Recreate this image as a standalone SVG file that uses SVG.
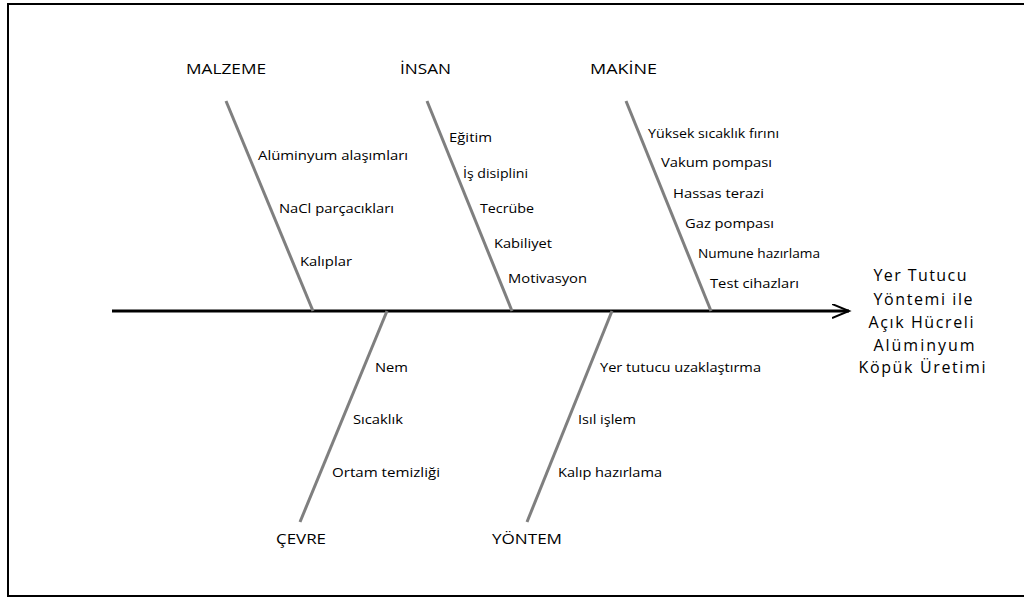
<svg xmlns="http://www.w3.org/2000/svg" width="1024" height="598" viewBox="0 0 1024 598">
<style>
.frame{fill:#fff;stroke:#000;stroke-width:2}
.spine{stroke:#000;stroke-width:3;fill:none}
.bone{stroke:#7f7f7f;stroke-width:3;fill:none}
.cat{font-family:"Open Sans","Liberation Sans",sans-serif;font-size:14px;fill:#000}
.item{font-family:"Open Sans","Liberation Sans",sans-serif;font-size:12.5px;fill:#000}
.head{font-family:"Open Sans","Liberation Sans",sans-serif;font-size:16px;fill:#000;text-anchor:middle}
</style>
<defs>
<marker id="arr" markerWidth="20" markerHeight="16" refX="17" refY="7" orient="auto" markerUnits="userSpaceOnUse">
<path d="M0,0 L17,7 L0,14" fill="none" stroke="#000" stroke-width="2"/>
</marker>
</defs>
<rect class="frame" x="8" y="4" width="1030" height="592"/>
<g id="connectors">
<line class="spine" x1="112" y1="311" x2="849" y2="311" marker-end="url(#arr)"/>
<line class="bone" x1="226" y1="101" x2="313" y2="311"/>
<line class="bone" x1="427" y1="101" x2="512" y2="311"/>
<line class="bone" x1="626" y1="101" x2="711" y2="311"/>
<line class="bone" x1="387" y1="311" x2="300" y2="522"/>
<line class="bone" x1="612" y1="311" x2="527" y2="522"/>
</g>
<g id="malzeme">
<text class="cat" x="186" y="74" textLength="80" lengthAdjust="spacingAndGlyphs">MALZEME</text>
<text class="item" x="258" y="160" textLength="150" lengthAdjust="spacingAndGlyphs">Alüminyum alaşımları</text>
<text class="item" x="279" y="213" textLength="115" lengthAdjust="spacingAndGlyphs">NaCl parçacıkları</text>
<text class="item" x="300" y="266" textLength="52" lengthAdjust="spacingAndGlyphs">Kalıplar</text>
</g>
<g id="insan">
<text class="cat" x="400" y="74" textLength="51" lengthAdjust="spacingAndGlyphs">İNSAN</text>
<text class="item" x="449" y="142" textLength="43" lengthAdjust="spacingAndGlyphs">Eğitim</text>
<text class="item" x="463" y="178" textLength="65" lengthAdjust="spacingAndGlyphs">İş disiplini</text>
<text class="item" x="480" y="213" textLength="54" lengthAdjust="spacingAndGlyphs">Tecrübe</text>
<text class="item" x="494" y="248" textLength="58" lengthAdjust="spacingAndGlyphs">Kabiliyet</text>
<text class="item" x="508" y="283" textLength="79" lengthAdjust="spacingAndGlyphs">Motivasyon</text>
</g>
<g id="makine">
<text class="cat" x="590" y="74" textLength="67" lengthAdjust="spacingAndGlyphs">MAKİNE</text>
<text class="item" x="648" y="138" textLength="131" lengthAdjust="spacingAndGlyphs">Yüksek sıcaklık fırını</text>
<text class="item" x="661" y="167" textLength="111" lengthAdjust="spacingAndGlyphs">Vakum pompası</text>
<text class="item" x="673" y="198" textLength="91" lengthAdjust="spacingAndGlyphs">Hassas terazi</text>
<text class="item" x="685" y="228" textLength="89" lengthAdjust="spacingAndGlyphs">Gaz pompası</text>
<text class="item" x="698" y="258" textLength="122" lengthAdjust="spacingAndGlyphs">Numune hazırlama</text>
<text class="item" x="710" y="288" textLength="89" lengthAdjust="spacingAndGlyphs">Test cihazları</text>
</g>
<g id="cevre">
<text class="cat" x="276" y="544" textLength="50" lengthAdjust="spacingAndGlyphs">ÇEVRE</text>
<text class="item" x="375" y="372" textLength="33" lengthAdjust="spacingAndGlyphs">Nem</text>
<text class="item" x="353" y="424" textLength="50" lengthAdjust="spacingAndGlyphs">Sıcaklık</text>
<text class="item" x="332" y="477" textLength="108" lengthAdjust="spacingAndGlyphs">Ortam temizliği</text>
</g>
<g id="yontem">
<text class="cat" x="492" y="544" textLength="70" lengthAdjust="spacingAndGlyphs">YÖNTEM</text>
<text class="item" x="600" y="372" textLength="161" lengthAdjust="spacingAndGlyphs">Yer tutucu uzaklaştırma</text>
<text class="item" x="578" y="424" textLength="58" lengthAdjust="spacingAndGlyphs">Isıl işlem</text>
<text class="item" x="558" y="477" textLength="104" lengthAdjust="spacingAndGlyphs">Kalıp hazırlama</text>
</g>
<g id="effect">
<text class="head" x="920" y="281" textLength="93" lengthAdjust="spacing">Yer Tutucu</text>
<text class="head" x="923" y="305" textLength="99" lengthAdjust="spacing">Yöntemi ile</text>
<text class="head" x="921" y="328" textLength="105" lengthAdjust="spacing">Açık Hücreli</text>
<text class="head" x="924" y="351" textLength="101" lengthAdjust="spacing">Alüminyum</text>
<text class="head" x="922" y="373" textLength="127" lengthAdjust="spacing">Köpük Üretimi</text>
</g>
</svg>
